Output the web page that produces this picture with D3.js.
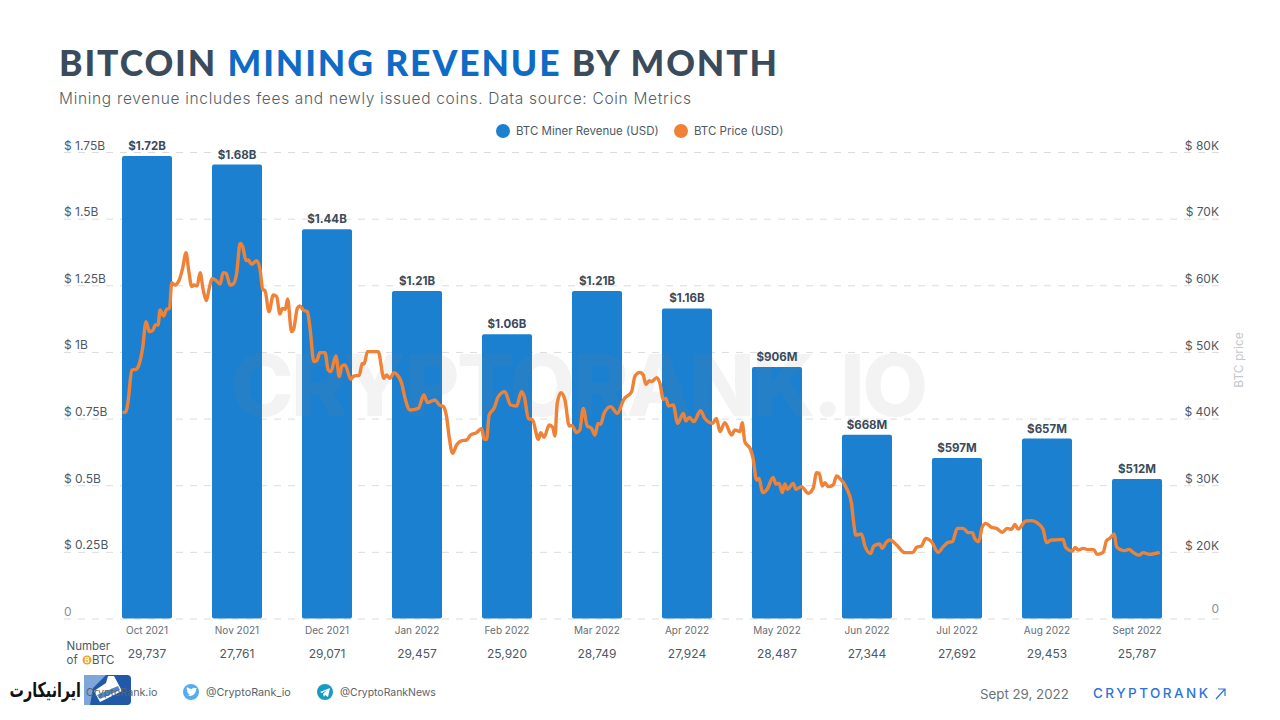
<!DOCTYPE html>
<html>
<head>
<meta charset="utf-8">
<script src="https://cdnjs.cloudflare.com/ajax/libs/d3/7.8.5/d3.min.js"></script>
<style>
  html, body { margin: 0; padding: 0; background: #fff; }
  svg { display: block; }
  text { font-family: Inter, Roboto, sans-serif; }
</style>
</head>
<body>
<svg id="chart" width="1280" height="720"></svg>
<script>
const months = ["Oct 2021", "Nov 2021", "Dec 2021", "Jan 2022", "Feb 2022", "Mar 2022", "Apr 2022", "May 2022", "Jun 2022", "Jul 2022", "Aug 2022", "Sept 2022"];
// bar heights (in $B), the labels do not quite agree with them
const revenue = [1.735, 1.703, 1.46, 1.229, 1.066, 1.229, 1.163, 0.943, 0.689, 0.602, 0.675, 0.523];
const revenueLabels = ["$1.72B", "$1.68B", "$1.44B", "$1.21B", "$1.06B", "$1.21B", "$1.16B", "$906M", "$668M", "$597M", "$657M", "$512M"];
const btcCounts = ["29,737", "27,761", "29,071", "29,457", "25,920", "28,749", "27,924", "28,487", "27,344", "27,692", "29,453", "25,787"];

const leftTicks = [0, 0.25, 0.5, 0.75, 1, 1.25, 1.5, 1.75];
const leftTickLabels = ["0", "$ 0.25B", "$ 0.5B", "$ 0.75B", "$ 1B", "$ 1.25B", "$ 1.5B", "$ 1.75B"];
const rightTicks = [0, 20, 30, 40, 50, 60, 70, 80];
const rightTickLabels = ["0", "$ 20K", "$ 30K", "$ 40K", "$ 50K", "$ 60K", "$ 70K", "$ 80K"];

// days since Oct 1 2021
const priceDays = [0.2,1.4,2.2,3.4,4.9,6.1,7.2,8.4,9.6,10.7,11.7,12.6,13.3,14.5,15.6,16.6,17.4,18.5,20,21.2,22.4,23.3,24.4,25.2,26.3,27.3,28.4,29.5,30.5,31.5,32.9,34.3,35.4,36.4,37.8,38.9,40.1,41.3,42.2,43.4,44.2,45.3,47.1,48.3,49.2,50,51.4,52.9,54.1,55.2,56.1,57.1,57.9,59.3,60.1,61.3,62.2,63.4,64.8,65.7,67.1,68.1,69.2,71,72.1,73,74.8,76,76.9,78,80,81.1,83,84,84.7,85.8,87.3,89.6,91.6,92.5,93.7,95.1,96,97.8,99,100.7,103.6,105.6,106.8,109.4,111,112.4,113.5,114.4,115.6,117,118.8,120.5,121.9,124,125.8,126.6,127.5,128.4,130.1,131.6,133.9,135.9,138,139.7,140.7,142.1,143.6,145.6,146.4,147.6,149.4,150.6,151.4,152.2,153.5,154.9,156.4,157.3,159,160.1,161.3,162.7,164.2,165.4,166.5,167.4,168.5,170.9,173.2,175.5,178.2,179.4,181.1,182.3,183.2,184.4,185.2,187,188.1,189.3,190.2,191.1,192.8,194.3,196.3,197.2,198.4,200,202.3,203.8,206.5,207.9,209.1,210.8,213.2,214.3,216.1,216.9,217.8,219.8,220.7,221.9,222.8,224,225.6,227.7,228.7,229.8,230.9,231.8,232.7,234.7,235.7,237.6,240,241.7,242.9,243.8,244.9,245.8,247,248.7,249.9,251,253.4,255.1,255.9,256.6,258.6,259.8,261.8,262.9,265,265.8,267.4,268.6,270.9,273.8,276.5,277.9,279.6,281.1,283.1,285.4,287.2,288.9,290.4,292.1,294.2,295.9,297.4,298.2,299.6,300.8,302.1,304.1,305.8,307.9,309.5,311.1,312.2,313.4,316.1,318,319.8,322.1,323.3,325,326.2,329.1,330,332.4,333.3,334.4,336.1,337.9,339.8,341,343.1,344.3,345.4,347,347.8,349.5,350.7,352.2,353.6,355.6,357.1,359.4,361.2,362.9];
// BTC price in $K
const priceValues = [40.9,41.05,42.8,47.3,47.4,48.3,50.55,54.55,53.05,53.2,54.05,54.05,56.3,55.4,56.4,56.55,60.4,60.05,60.8,62.55,64.9,62.3,59.8,60.05,59.9,61.9,59.3,57.7,59.55,61.05,60.7,60.2,61.9,61.8,60.05,60.2,61.8,66.3,65.8,63.7,63.8,63.15,63.7,62.3,59.4,59.2,56.05,58.55,58.3,55.7,56.55,56.4,57.95,53.05,53.55,56.55,56.9,56.3,56.05,53.8,48.55,48.7,49.9,49.9,47.3,47.05,49.4,46.3,47.9,48.05,45.9,46.4,46.5,48.3,48.2,50.05,50.05,50.05,46.05,46.55,46.05,46.9,46.7,45.3,43.05,41.3,41.55,43.55,42.4,42.8,42.05,41.8,40.3,37.3,34.8,36.05,36.7,36.8,37.55,37.9,38.55,36.9,36.9,40.55,41.55,43.3,44.05,42.05,41.9,44.05,43.3,40.05,39.8,36.9,37.9,37.2,39.05,38.7,37.4,42.3,43.9,42.8,38.9,39,37.9,38.3,41.55,38.9,38.55,37.55,39.3,39.15,40.7,41.8,40.8,42.9,44.05,46.4,46.95,46.55,45.15,45.7,45.55,46.15,45.3,42.9,43.05,41.9,42.05,39.3,40.8,39.65,40.2,39.55,41.2,40.05,39.3,40.05,38.05,39.4,37.55,38.3,38.05,39.4,36.55,35.4,34.05,30.8,31.05,28.9,29.4,31.2,30.2,30.3,28.9,30.2,29.4,30.3,29.4,29.8,28.8,29.55,31.9,31.8,29.9,30.4,29.8,30.05,31.4,31.05,29.55,27.3,24.3,22.55,22.7,20.9,19.55,20.9,21.2,20.55,21.55,21.8,21.05,19.8,19.8,20.7,20.9,22.05,21.55,19.9,20.8,21.45,21.55,23.55,23.55,22.9,22.9,22.05,21.55,23.7,24.3,23.7,23.55,22.95,23.55,23.4,24.15,23.45,24.65,24.7,24.45,23.4,21.4,21.8,21.8,21.9,20.7,20.15,20.7,20.3,20.55,20.35,20.35,19.3,19.9,21.7,22.05,22.7,20.8,20.3,20.2,20.4,19.9,19.05,19.8,19.3,19.55,19.9];

const baseY = 618.5, topY = 152;
const gridLeft = 64, gridRight = 1219;
const blue = "#1c80d0", orange = "#ef8237", dark = "#3a4b5c";

const svg = d3.select("#chart");

const x = d3.scaleBand().domain(months).range([102, 1182]).paddingInner(40 / 90).paddingOuter(20 / 90);
const yLeft = d3.scaleLinear().domain([0, 1.75]).range([baseY, topY]);
// the right axis jumps from 0 straight to 20K
const yRight = d3.scaleLinear().domain([0, 20, 80]).range([baseY, 552, topY]);
const xDay = d3.scaleLinear().domain([0, 363]).range([122, 1160]);

// title
const title = svg.append("text").attr("x", 59).attr("y", 76)
  .style("font-family", "Lato, sans-serif").style("font-weight", 900).style("font-size", "35.5px")
  .style("letter-spacing", "1.9px").attr("fill", dark);
title.append("tspan").text("BITCOIN ");
title.append("tspan").attr("fill", "#0f6cc6").text("MINING REVENUE");
title.append("tspan").text(" BY MONTH");

svg.append("text").attr("x", 59).attr("y", 104).attr("fill", "#555f68")
  .style("font-size", "15.5px").style("font-weight", 300).style("letter-spacing", "0.68px")
  .text("Mining revenue includes fees and newly issued coins. Data source: Coin Metrics");

// legend
const legendItems = [["BTC Miner Revenue (USD)", blue, 503], ["BTC Price (USD)", orange, 681]];
legendItems.forEach(d => {
  svg.append("circle").attr("cx", d[2]).attr("cy", 131).attr("r", 7).attr("fill", d[1]);
  svg.append("text").attr("x", d[2] + 13).attr("y", 135).attr("fill", "#4d5964")
    .style("font-size", "11.5px").text(d[0]);
});

// left axis carries the gridlines
const leftAxis = svg.append("g").attr("transform", `translate(${gridLeft},0)`)
  .call(d3.axisLeft(yLeft).tickValues(leftTicks)
    .tickFormat((d, i) => leftTickLabels[i])
    .tickSize(-(gridRight - gridLeft)));
leftAxis.select(".domain").remove();
leftAxis.selectAll("line").attr("stroke", "#dcdcdc").attr("stroke-dasharray", "7,7");
leftAxis.selectAll("text").attr("x", 0).attr("dy", "-3px").attr("text-anchor", "start")
  .attr("fill", "#4d5964").style("font-size", "12px");

const rightAxis = svg.append("g").attr("transform", `translate(${gridRight},0)`)
  .call(d3.axisRight(yRight).tickValues(rightTicks)
    .tickFormat((d, i) => rightTickLabels[i]).tickSize(0));
rightAxis.select(".domain").remove();
rightAxis.selectAll("text").attr("x", 0).attr("dy", "-3px").attr("text-anchor", "end")
  .attr("fill", "#4d5964").style("font-size", "12px");
rightAxis.selectAll(".tick").filter(d => d === 0).select("text").attr("fill", "#8a8f94").attr("dy", "-6.5px");
leftAxis.selectAll(".tick").filter(d => d === 0).select("text").attr("fill", "#8a8f94");

svg.append("text").attr("transform", "translate(1243,360) rotate(-90)").attr("text-anchor", "middle")
  .attr("fill", "#c4c8cc").style("font-size", "12px").text("BTC price");

// bars
svg.append("g").selectAll("rect").data(revenue).join("rect")
  .attr("x", (d, i) => x(months[i]))
  .attr("y", d => yLeft(d))
  .attr("width", x.bandwidth())
  .attr("height", d => baseY - yLeft(d))
  .attr("rx", 2)
  .attr("fill", blue);

svg.append("g").selectAll("text").data(revenue).join("text")
  .attr("x", (d, i) => x(months[i]) + x.bandwidth() / 2)
  .attr("y", d => yLeft(d) - 6)
  .attr("text-anchor", "middle")
  .attr("fill", dark)
  .style("font-size", "11.5px").style("font-weight", 700)
  .text((d, i) => revenueLabels[i]);

// watermark
svg.append("text").attr("x", 578).attr("y", 416).attr("text-anchor", "middle")
  .attr("fill", "#808080").attr("opacity", 0.09)
  .style("font-size", "85px").style("font-weight", 800).style("letter-spacing", "-2.4px")
  .style("font-family", "Inter, sans-serif")
  .text("CRYPTORANK.IO");

// price line
const priceLine = d3.line().x(d => xDay(d)).y((d, i) => yRight(priceValues[i])).curve(d3.curveMonotoneX);
svg.append("path").attr("d", priceLine(priceDays)).attr("fill", "none")
  .attr("stroke", orange).attr("stroke-width", 3.4).attr("stroke-linejoin", "round");

// month labels and coin counts
const xAxis = svg.append("g").attr("transform", "translate(0,627)")
  .call(d3.axisBottom(x).tickSize(0).tickPadding(0));
xAxis.select(".domain").remove();
xAxis.selectAll("text").attr("fill", "#666e75").style("font-size", "10px");

svg.append("g").selectAll("text").data(btcCounts).join("text")
  .attr("x", (d, i) => x(months[i]) + x.bandwidth() / 2)
  .attr("y", 657.5).attr("text-anchor", "middle").attr("fill", "#4d5964")
  .style("font-size", "12px").text(d => d);

svg.append("text").attr("x", 66.5).attr("y", 650).attr("fill", "#4d5964").style("font-size", "11.5px").text("Number");
svg.append("text").attr("x", 66.5).attr("y", 664).attr("fill", "#4d5964").style("font-size", "11.5px").text("of");
svg.append("circle").attr("cx", 87).attr("cy", 660).attr("r", 4.5).attr("fill", "#f5a033");
svg.append("text").attr("x", 87).attr("y", 662.5).attr("text-anchor", "middle").attr("fill", "#fff")
  .style("font-size", "7px").style("font-weight", 700).text("B");
svg.append("text").attr("x", 92).attr("y", 664).attr("fill", "#4d5964").style("font-size", "11.5px").text("BTC");

// overlaid site logo, the footer text shows through it
svg.append("rect").attr("x", 84).attr("y", 675).attr("width", 47).attr("height", 30).attr("rx", 4).attr("fill", "#2158a8");
svg.append("path").attr("d", "M84,675 L106,675 L93,688 L90,705 L84,705 Z").attr("fill", "#7fa6d8");
svg.append("path").attr("d", "M94,691 L106,683 L108,676 L114,676 L122,691 L100,702 Z").attr("fill", "#fff");
svg.append("path").attr("d", "M97,695 L118,686 L120,690 L100,699 Z").attr("fill", "#4f86cc");
svg.append("text").attr("transform", "translate(81,697) scale(0.84,1.2)").attr("text-anchor", "end").attr("fill", "#111")
  .style("font-family", "'DejaVu Sans', sans-serif").style("font-weight", 700).style("font-size", "17px")
  .text("ایرانیکارت");

// footer
const footText = [["CryptoRank.io", 86, 10.7], ["@CryptoRank_io", 206, 10.8], ["@CryptoRankNews", 340, 10.45]];
footText.forEach(d => {
  svg.append("text").attr("x", d[1]).attr("y", 696).attr("fill", "#5a646d")
    .style("font-size", d[2] + "px").text(d[0]);
});
svg.append("circle").attr("cx", 191).attr("cy", 692).attr("r", 8).attr("fill", "#55acee");
svg.append("path").attr("d", "M186,695 q4,2 7,0 q3,-2 3,-6 l1,-1 -2,0 q-2,-1 -3,1 q-3,0 -5,-2 q-1,3 1,4 l-1,0 q0,2 2,2 l-1,0 q0,1 2,2 q-2,1 -4,0z").attr("fill", "#fff");
svg.append("circle").attr("cx", 325).attr("cy", 692).attr("r", 8).attr("fill", "#179cbf");
svg.append("path").attr("d", "M320,692 l10,-4 -2,9 -3,-2 -1,2 -1,-3 4,-4 -5,3z").attr("fill", "#fff");

svg.append("text").attr("x", 980).attr("y", 698.5).attr("fill", "#6b7278").style("font-size", "13.3px").text("Sept 29, 2022");
svg.append("text").attr("x", 1093).attr("y", 698).attr("fill", "#2e73d8")
  .style("font-size", "13.5px").style("font-weight", 500).style("letter-spacing", "2.45px").text("CRYPTORANK");
svg.append("path").attr("d", "M1216,699 L1225,689 M1218,689 L1225,689 L1225,696").attr("fill", "none").attr("stroke", "#2e73d8").attr("stroke-width", 1.2);
</script>
</body>
</html>
